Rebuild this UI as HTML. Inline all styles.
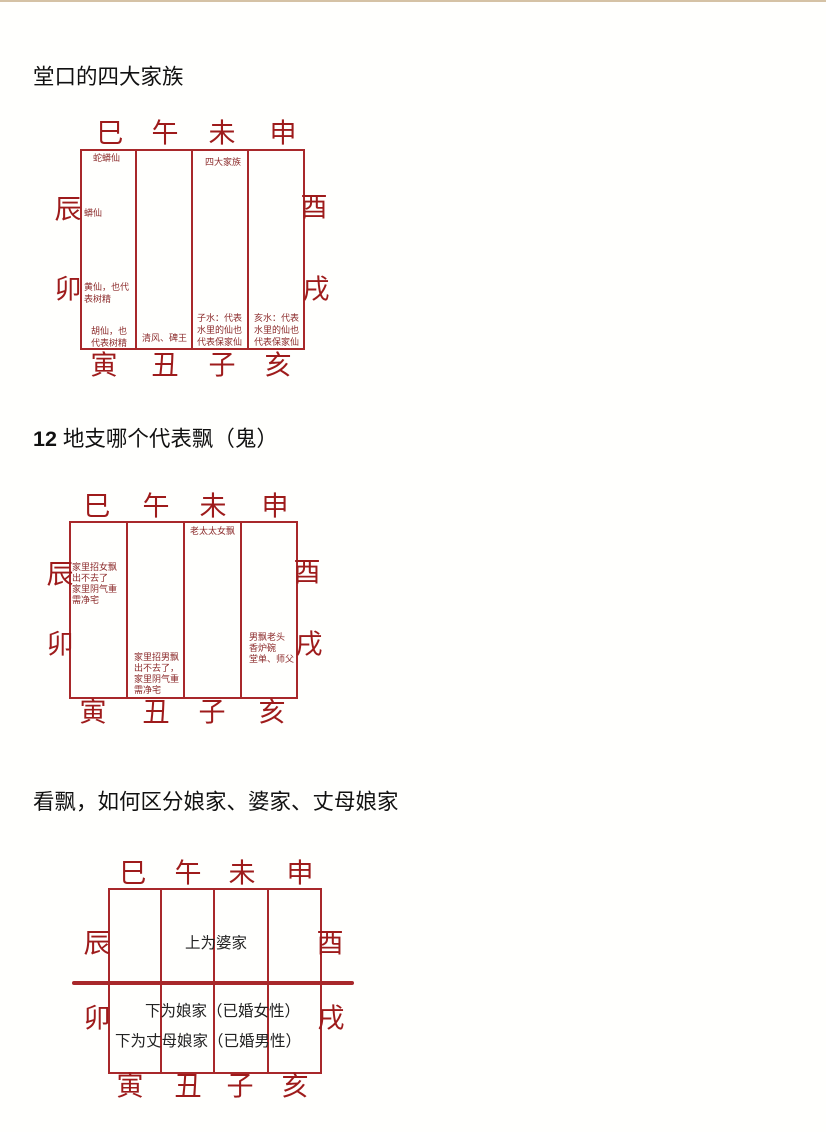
<!DOCTYPE html>
<html><head><meta charset="utf-8"><style>
body{margin:0;width:826px;height:1132px;background:#fffffd;position:relative;overflow:hidden;font-family:"Liberation Sans","Noto Sans CJK SC",sans-serif;}
.t{position:absolute;left:0;top:0;height:2px;width:826px;background:#d5c2a5;}
.h{position:absolute;left:33px;font-size:21.5px;color:#111;white-space:nowrap;line-height:1;}
.b{position:absolute;border:2px solid #a8282a;box-sizing:border-box;}
.v{position:absolute;width:2px;background:#a8282a;}
.c{position:absolute;color:#9e1b1b;font-size:27px;line-height:1;transform:translate(-50%,-50%);white-space:nowrap;}
.s{position:absolute;color:#8b2a2a;font-size:9px;line-height:12px;white-space:nowrap;}
.m{position:absolute;color:#222;font-size:15.5px;line-height:1;white-space:nowrap;}
</style></head><body>
<div class="t"></div>
<div class="h" style="top:67px">堂口的四大家族</div>
<div class="h" style="top:429px"><b style="font-family:'Liberation Sans',sans-serif">12</b> 地支哪个代表飘（鬼）</div>
<div class="h" style="top:792px">看飘，如何区分娘家、婆家、丈母娘家</div>

<!-- diagram 1 -->
<div class="b" style="left:80px;top:149px;width:225px;height:201px"></div>
<div class="v" style="left:135px;top:149px;height:201px"></div>
<div class="v" style="left:191px;top:149px;height:201px"></div>
<div class="v" style="left:247px;top:149px;height:201px"></div>
<div class="c" style="left:110px;top:134px">巳</div>
<div class="c" style="left:165px;top:134px">午</div>
<div class="c" style="left:222px;top:134px">未</div>
<div class="c" style="left:283px;top:134px">申</div>
<div class="c" style="left:68px;top:210px">辰</div>
<div class="c" style="left:68px;top:290px">卯</div>
<div class="c" style="left:314px;top:208px">酉</div>
<div class="c" style="left:316px;top:290px">戌</div>
<div class="c" style="left:104px;top:366px">寅</div>
<div class="c" style="left:165px;top:366px">丑</div>
<div class="c" style="left:222px;top:366px">子</div>
<div class="c" style="left:278px;top:366px">亥</div>
<div class="s" style="left:93px;top:152px">蛇蟒仙</div>
<div class="s" style="left:84px;top:207px">蟒仙</div>
<div class="s" style="left:84px;top:281px">黄仙，也代<br>表树精</div>
<div class="s" style="left:91px;top:325px">胡仙，也<br>代表树精</div>
<div class="s" style="left:142px;top:332px">清风、碑王</div>
<div class="s" style="left:205px;top:156px">四大家族</div>
<div class="s" style="left:197px;top:312px">子水：代表<br>水里的仙也<br>代表保家仙</div>
<div class="s" style="left:254px;top:312px">亥水：代表<br>水里的仙也<br>代表保家仙</div>

<!-- diagram 2 -->
<div class="b" style="left:69px;top:521px;width:229px;height:178px"></div>
<div class="v" style="left:126px;top:521px;height:178px"></div>
<div class="v" style="left:183px;top:521px;height:178px"></div>
<div class="v" style="left:240px;top:521px;height:178px"></div>
<div class="c" style="left:97px;top:507px">巳</div>
<div class="c" style="left:156px;top:507px">午</div>
<div class="c" style="left:213px;top:507px">未</div>
<div class="c" style="left:275px;top:507px">申</div>
<div class="c" style="left:60px;top:575px">辰</div>
<div class="c" style="left:60px;top:645px">卯</div>
<div class="c" style="left:307px;top:573px">酉</div>
<div class="c" style="left:309px;top:645px">戌</div>
<div class="c" style="left:93px;top:713px">寅</div>
<div class="c" style="left:156px;top:713px">丑</div>
<div class="c" style="left:212px;top:713px">子</div>
<div class="c" style="left:272px;top:713px">亥</div>
<div class="s" style="left:72px;top:562px;line-height:11px">家里招女飘<br>出不去了<br>家里阴气重<br>需净宅</div>
<div class="s" style="left:134px;top:652px;line-height:11px">家里招男飘<br>出不去了，<br>家里阴气重<br>需净宅</div>
<div class="s" style="left:190px;top:525px">老太太女飘</div>
<div class="s" style="left:249px;top:632px;line-height:11px">男飘老头<br>香炉碗<br>堂单、师父</div>

<!-- diagram 3 -->
<div class="b" style="left:108px;top:888px;width:214px;height:186px"></div>
<div class="v" style="left:160px;top:888px;height:186px"></div>
<div class="v" style="left:213px;top:888px;height:186px"></div>
<div class="v" style="left:267px;top:888px;height:186px"></div>
<div style="position:absolute;left:72px;top:981px;width:282px;height:4px;background:#a8282a;border-radius:2px"></div>
<div class="c" style="left:133px;top:874px">巳</div>
<div class="c" style="left:188px;top:874px">午</div>
<div class="c" style="left:242px;top:874px">未</div>
<div class="c" style="left:300px;top:874px">申</div>
<div class="c" style="left:97px;top:944px">辰</div>
<div class="c" style="left:97px;top:1019px">卯</div>
<div class="c" style="left:330px;top:944px">酉</div>
<div class="c" style="left:331px;top:1019px">戌</div>
<div class="c" style="left:130px;top:1087px">寅</div>
<div class="c" style="left:188px;top:1087px">丑</div>
<div class="c" style="left:240px;top:1087px">子</div>
<div class="c" style="left:295px;top:1087px">亥</div>
<div class="m" style="left:185px;top:936px">上为婆家</div>
<div class="m" style="left:145px;top:1004px">下为娘家（已婚女性）</div>
<div class="m" style="left:115px;top:1034px">下为丈母娘家（已婚男性）</div>
</body></html>
